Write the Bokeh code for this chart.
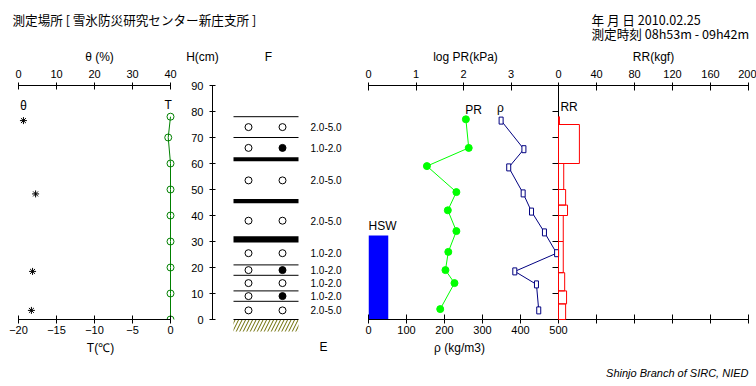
from bokeh.plotting import figure
from bokeh.models import Range1d, LinearAxis, FixedTicker, CustomJSTickFormatter, Label, Plot
from bokeh.layouts import column, row
from bokeh.embed import file_html
from bokeh.resources import INLINE
from bokeh.core.properties import value

# ---------------- data ----------------
site_text = "測定場所 [ 雪氷防災研究センター新庄支所 ]"
date_text = "年 月 日  2010.02.25"
time_text = "測定時刻  08h53m - 09h42m"
credit_text = "Shinjo Branch of SIRC, NIED"

h_ticks = [0, 10, 20, 30, 40, 50, 60, 70, 80, 90]
theta_ticks = [0, 10, 20, 30, 40]
temp_ticks = [-20, -15, -10, -5, 0]
logpr_ticks = [0, 1, 2, 3]
rho_ticks = [0, 100, 200, 300, 400, 500]
rr_ticks = [0, 40, 80, 120, 160, 200]

theta_h = [76.5, 48.3, 18.5, 3.5]
theta_v = [1.3, 4.5, 3.7, 3.4]
temp_h = [0, 10, 20, 30, 40, 50, 60, 70, 78]
temp_v = [0, 0, 0, 0, 0, 0, 0, -0.3, 0]

boundary_h = [78, 70, 21, 17, 11, 7, 0]
crust_bottom = [60.9, 44.7, 29.6]
crust_top = [62.4, 46.3, 32.0]
grain_h = [74, 66, 53.5, 38, 25.5, 19, 14, 9, 3.5]
grain2_filled = [False, True, False, False, False, True, False, True, False]
grain_size = ["2.0-5.0", "1.0-2.0", "2.0-5.0", "2.0-5.0", "1.0-2.0",
              "1.0-2.0", "1.0-2.0", "1.0-2.0", "2.0-5.0"]

pr_h = [77, 66, 59, 49, 42, 34, 26, 19, 14, 4]
pr_log = [2.05, 2.11, 1.23, 1.85, 1.67, 1.85, 1.68, 1.62, 1.81, 1.51]
rho_h = [76.5, 65.5, 58.5, 48.5, 41.5, 33.5, 25.5, 18.5, 13.5, 3.5]
rho_v = [349, 409, 369, 407, 429, 463, 495, 385, 442, 448]
rr_bottom = [0, 6, 11, 18, 30, 40, 44, 50, 60, 75]
rr_top = [6, 11, 18, 30, 40, 44, 50, 60, 75, 78]
rr_v = [7.5, 8.5, 6.5, 5, 5, 9.5, 7.5, 5.5, 22, 1]
hsw_h = 32.3

# ---------------- style / layout (pixels) ----------------
JP = "Noto Sans CJK JP"
NUM = "Liberation Sans"
FS = "12px"
HEAD_FS = "12.6px"
TICK_FS = "11px"
W = 756
HEAD_H = 64
TOP_B = 21
BOT_B = 19
FRAME_H = 234
ROW_H = TOP_B + FRAME_H + BOT_B
FOOT_H = 386 - HEAD_H - ROW_H
H_MAX = h_ticks[-1]
PX_CM = FRAME_H / H_MAX
ZERO_PAGE = HEAD_H + TOP_B + FRAME_H     # page y of 0 cm


def ycm(page_y):
    return (ZERO_PAGE - page_y) / PX_CM


axis_style = dict(major_tick_in=4, major_tick_out=3, minor_tick_line_color=None,
                  major_label_text_font=NUM, major_label_text_font_size=TICK_FS,
                  major_label_text_color="black", axis_line_color="black",
                  major_tick_line_color="black", major_label_standoff=5)

NOALIGN = {"frame_align": False} if "frame_align" in Plot.properties() else {}


def base_fig(width, height, x_range, y_range, left, right, top, bottom):
    return figure(width=width, height=height, x_range=x_range, y_range=y_range,
                  x_axis_type=None, y_axis_type=None, toolbar_location=None,
                  output_backend="svg", min_border_left=left, min_border_right=right,
                  min_border_top=top, min_border_bottom=bottom,
                  outline_line_color=None, background_fill_color="white",
                  border_fill_color="white", **NOALIGN)


def lab(p, x, y, text, align="center", size=FS, font=JP, style="normal",
        x_range_name="default"):
    p.add_layout(Label(x=x, y=y, text=text, text_align=align, text_baseline="middle",
                       text_font=font, text_font_size=size, text_font_style=style,
                       text_color="black", x_range_name=x_range_name))


def text_strip(height):
    return base_fig(W, height, Range1d(0, W), Range1d(height, 0), 0, 0, 0, 0)


# ---------------- header (texts above the panels) ----------------
pH = text_strip(HEAD_H)
lab(pH, 12, 19, site_text, align="left", size=HEAD_FS)
lab(pH, 591, 19, date_text, align="left", size=HEAD_FS)
lab(pH, 591, 33, time_text, align="left", size=HEAD_FS)
lab(pH, 99, 56, "θ (%)", font=NUM)
lab(pH, 202, 56, "H(cm)", font=NUM)
lab(pH, 268, 56, "F", font=NUM)
lab(pH, 465, 56, "log PR(kPa)", font=NUM)
lab(pH, 653, 56, "RR(kgf)", font=NUM)

# ---------------- panel A: theta / T ----------------
A_LEFT, A_FRAME, A_W = 18, 152, 185
a_extra = (A_W - A_LEFT - A_FRAME) / A_FRAME          # frame continues past the 40 / 0 end
th_span = theta_ticks[-1] - theta_ticks[0]
t_span = temp_ticks[-1] - temp_ticks[0]
pA = base_fig(A_W, ROW_H, Range1d(theta_ticks[0], theta_ticks[-1] + a_extra * th_span),
              Range1d(0, H_MAX), A_LEFT, 0, TOP_B, BOT_B)
pA.extra_x_ranges = {"T": Range1d(temp_ticks[0], temp_ticks[-1] + a_extra * t_span)}
pA.add_layout(LinearAxis(ticker=FixedTicker(ticks=theta_ticks),
                         bounds=(theta_ticks[0], theta_ticks[-1]), **axis_style), "above")
pA.add_layout(LinearAxis(x_range_name="T", ticker=FixedTicker(ticks=temp_ticks),
                         bounds=(temp_ticks[0], temp_ticks[-1]),
                         **{**axis_style, "major_tick_out": 4, "major_label_standoff": 2}),
              "below")
pA.line(x=temp_v, y=temp_h, x_range_name="T", line_color="#008000", line_width=1)
pA.scatter(x=temp_v, y=temp_h, x_range_name="T", marker="circle", size=7,
           fill_color=None, line_color="#008000")
pA.scatter(x=theta_v, y=theta_h, marker="asterisk", size=7, line_color="black")
lab(pA, 1.3, ycm(104), "θ")
lab(pA, -0.3, ycm(104), "T", font=NUM, x_range_name="T")

# ---------------- panel B: H / F ----------------
B_W, B_LEFT = 170, 27
pB = base_fig(B_W, ROW_H, Range1d(0, B_W - B_LEFT),
              Range1d(ycm(HEAD_H + ROW_H), H_MAX), B_LEFT, 0, TOP_B, 0)
pB.add_layout(LinearAxis(ticker=FixedTicker(ticks=h_ticks), bounds=(h_ticks[0], h_ticks[-1]),
                         **{**axis_style, "major_tick_in": 3, "major_tick_out": 3,
                            "major_label_standoff": 6}), "left")
LX0, LX1 = 21, 86          # layer column extent (px from frame left)
SX1, SX2 = 36, 70          # grain-shape symbol columns
TX = 98                    # grain size text column
pB.quad(left=[LX0], right=[LX1], top=[0], bottom=[-12 / PX_CM], fill_color=None,
        line_color=None, hatch_pattern="/", hatch_color="#6b6b00", hatch_scale=7,
        hatch_weight=1)
pB.segment(x0=LX0, x1=LX1, y0=boundary_h, y1=boundary_h, line_color="black", line_width=1)
pB.quad(left=LX0, right=LX1, bottom=crust_bottom, top=crust_top,
        fill_color="black", line_color=None)
pB.scatter(x=SX1, y=grain_h, marker="circle", size=7, fill_color="white",
           line_color="black")
pB.scatter(x=SX2, y=grain_h, marker="circle", size=7,
           fill_color=["black" if f else "white" for f in grain2_filled],
           line_color="black")
pB.text(x=TX, y=grain_h, text=grain_size, text_font=value(NUM),
        text_font_size="10px", text_baseline="middle", text_align="left",
        text_color="black")

# ---------------- panel C: PR / rho / RR ----------------
PR_SPAN = 4
pC = base_fig(W - A_W - B_W, ROW_H, Range1d(0, 2 * PR_SPAN), Range1d(0, H_MAX),
              13, 8, TOP_B, BOT_B)
pC.extra_x_ranges = {"rho": Range1d(0, 2 * rho_ticks[-1]),
                     "rr": Range1d(-rr_ticks[-1], rr_ticks[-1])}
top_ticks = logpr_ticks + [PR_SPAN + r / rr_ticks[-1] * PR_SPAN for r in rr_ticks]
top_fmt = CustomJSTickFormatter(
    args=dict(split=PR_SPAN, k=rr_ticks[-1] / PR_SPAN),
    code="return tick < split - 1e-6 ? tick.toFixed(0) : ((tick - split) * k).toFixed(0);")
pC.add_layout(LinearAxis(ticker=FixedTicker(ticks=top_ticks), formatter=top_fmt,
                         **{**axis_style, "major_tick_in": 5}), "above")
bot_ticks = rho_ticks + [rho_ticks[-1] + r / rr_ticks[-1] * rho_ticks[-1] for r in rr_ticks[1:]]
bot_fmt = CustomJSTickFormatter(
    args=dict(split=rho_ticks[-1]),
    code="return tick <= split + 1e-6 ? tick.toFixed(0) : '';")
pC.add_layout(LinearAxis(x_range_name="rho", ticker=FixedTicker(ticks=bot_ticks),
                         formatter=bot_fmt,
                         **{**axis_style, "major_tick_in": 5, "major_tick_out": 4,
                            "major_label_standoff": 2}), "below")
pC.add_layout(LinearAxis(x_range_name="rr", fixed_location=0,
                         ticker=FixedTicker(ticks=h_ticks), bounds=(h_ticks[0], h_ticks[-1]),
                         formatter=CustomJSTickFormatter(code="return '';"),
                         **{**axis_style, "major_tick_in": 0, "major_tick_out": 6}), "left")

pC.quad(left=[0], right=[52], bottom=[0], top=[hsw_h], x_range_name="rho",
        fill_color="#0000ff", line_color=None)
pC.line(x=pr_log, y=pr_h, line_color="#00ff00", line_width=1)
pC.scatter(x=pr_log, y=pr_h, marker="circle", size=7, fill_color="#00ff00",
           line_color="#00ff00")
pC.line(x=rho_v, y=rho_h, x_range_name="rho", line_color="#000080", line_width=1)
pC.rect(x=rho_v, y=rho_h, width=4, height=7, width_units="screen", height_units="screen",
        x_range_name="rho", fill_color="white", line_color="#000080")
pC.quad(left=0, right=rr_v, bottom=rr_bottom, top=rr_top, x_range_name="rr",
        fill_color=None, line_color="#ff0000", line_width=1, level="overlay")

lab(pC, 2.21, ycm(109), "PR", font=NUM)
lab(pC, 347, ycm(107), "ρ", font=NUM, x_range_name="rho")
lab(pC, 2, ycm(106), "RR", align="left", font=NUM, x_range_name="rr")
lab(pC, 0, ycm(225), "HSW", align="left", font=NUM, x_range_name="rho")

# ---------------- footer (texts below the panels) ----------------
pF = text_strip(FOOT_H)
FOOT_TOP = HEAD_H + ROW_H
lab(pF, 100, 347 - FOOT_TOP, "T(℃)", font=NUM)
lab(pF, 323, 346 - FOOT_TOP, "E", font=NUM)
lab(pF, 459, 347 - FOOT_TOP, "ρ (kg/m3)", font=NUM)
lab(pF, 748, 372 - FOOT_TOP, credit_text, align="right", font=NUM, style="italic",
    size="11px")

layout = column(pH, row(pA, pB, pC), pF)
open("out.html", "w").write(file_html(layout, INLINE))
